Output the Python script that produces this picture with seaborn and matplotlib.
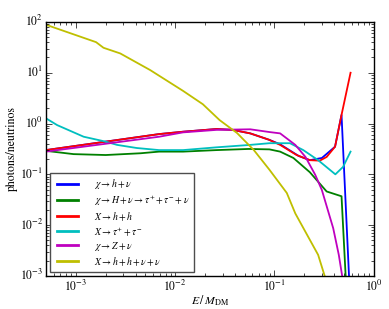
import numpy as np
import pandas as pd
import matplotlib
matplotlib.use("Agg")
import matplotlib.pyplot as plt
import seaborn as sns

# Spectra (E/M_DM, photons/neutrinos)
E_yel = [5.0e-4, 5.1e-4, 9.5e-4, 1.6e-3, 1.9e-3, 2.8e-3, 5.6e-3, 1.2e-2, 1.9e-2,
         2.8e-2, 4.2e-2, 6.2e-2, 8.9e-2, 0.133, 0.162, 0.275, 0.32, 0.34]
N_yel = [91, 87, 57, 40, 31, 24, 11.3, 4.4, 2.4, 1.17, 0.65, 0.30, 0.123,
         0.043, 0.017, 0.0026, 0.001, 0.0006]

E_cyn = [5.0e-4, 6.5e-4, 1.2e-3, 2.0e-3, 2.6e-3, 4.1e-3, 6.9e-3, 1.2e-2, 2.6e-2,
         5.7e-2, 8.9e-2, 0.143, 0.195, 0.275, 0.41, 0.49, 0.583]
N_cyn = [1.27, 0.93, 0.55, 0.44, 0.38, 0.33, 0.30, 0.30, 0.34,
         0.38, 0.41, 0.41, 0.30, 0.19, 0.10, 0.14, 0.28]

E_red = [5.0e-4, 6.9e-3, 1.2e-2, 2.6e-2, 3.8e-2, 5.7e-2, 8.8e-2, 0.114,
         0.167, 0.227, 0.286, 0.335, 0.407, 0.473, 0.583]
N_red = [0.30, 0.62, 0.69, 0.78, 0.75, 0.64, 0.48, 0.38,
         0.24, 0.19, 0.186, 0.22, 0.35, 1.48, 10.0]

E_blu = [5.0e-4, 6.9e-3, 1.2e-2, 2.6e-2, 3.8e-2, 5.7e-2, 8.8e-2, 0.114,
         0.175, 0.227, 0.30, 0.407, 0.473, 0.575]
N_blu = [0.30, 0.62, 0.69, 0.78, 0.75, 0.64, 0.48, 0.39,
         0.23, 0.19, 0.21, 0.35, 1.48, 0.0004]

E_grn = [5.0e-4, 9.5e-4, 2.0e-3, 4.5e-3, 6.9e-3, 1.2e-2, 2.6e-2, 5.5e-2, 8.9e-2,
         0.114, 0.155, 0.227, 0.335, 0.473, 0.53]
N_grn = [0.29, 0.25, 0.24, 0.26, 0.28, 0.28, 0.30, 0.316, 0.31,
         0.28, 0.21, 0.11, 0.046, 0.037, 0.0005]

E_mag = [5.0e-4, 6.9e-3, 1.2e-2, 2.6e-2, 5.7e-2, 8.9e-2, 0.114, 0.162, 0.205,
         0.257, 0.30, 0.39, 0.444, 0.48, 0.50]
N_mag = [0.28, 0.55, 0.67, 0.75, 0.77, 0.68, 0.64, 0.38, 0.22,
         0.098, 0.049, 0.0087, 0.0026, 0.001, 0.0005]

series = [
    (r"$\chi \rightarrow h+\nu$", "b", E_blu, N_blu),
    (r"$\chi \rightarrow H+\nu \rightarrow \tau^{+}+\tau^{-}+\nu$", "g", E_grn, N_grn),
    (r"$X \rightarrow h+h$", "r", E_red, N_red),
    (r"$X \rightarrow \tau^{+}+\tau^{-}$", "c", E_cyn, N_cyn),
    (r"$\chi \rightarrow Z+\nu$", "m", E_mag, N_mag),
    (r"$X \rightarrow h+h+\nu+\nu$", "y", E_yel, N_yel),
]

plt.style.use("classic")
plt.rcParams["font.family"] = ["STIXGeneral", "DejaVu Serif"]
plt.rcParams["mathtext.fontset"] = "stix"
plt.rcParams["font.size"] = 8

fig = plt.figure(figsize=(3.89, 3.09), dpi=100, facecolor="white")
ax = fig.add_axes([0.118, 0.107, 0.843, 0.822])

for label, color, E, N in series:
    df = pd.DataFrame({"E": E, "N": N})
    sns.lineplot(data=df, x="E", y="N", ax=ax, color=color, label=label,
                 linewidth=1.3, sort=False, estimator=None)

ax.set_xscale("log")
ax.set_yscale("log")
ax.set_xlim(5e-4, 1)
ax.set_ylim(1e-3, 1e2)
ax.set_xlabel(r"$E\,/\,M_{\rm DM}$", fontsize=8.5, labelpad=0)
ax.set_ylabel("photons/neutrinos", fontsize=8.5, labelpad=1)
ax.tick_params(labelsize=8.5, pad=2)

leg = ax.legend(loc="lower left", fontsize=7, handlelength=2.8, labelspacing=0.22,
                fancybox=False, borderpad=0.45, handletextpad=1.3,
                borderaxespad=0.4)
leg.get_frame().set_edgecolor("0.3")
for line in leg.get_lines():
    line.set_linewidth(2.0)

fig.savefig("out.png", dpi=100, facecolor="white")
